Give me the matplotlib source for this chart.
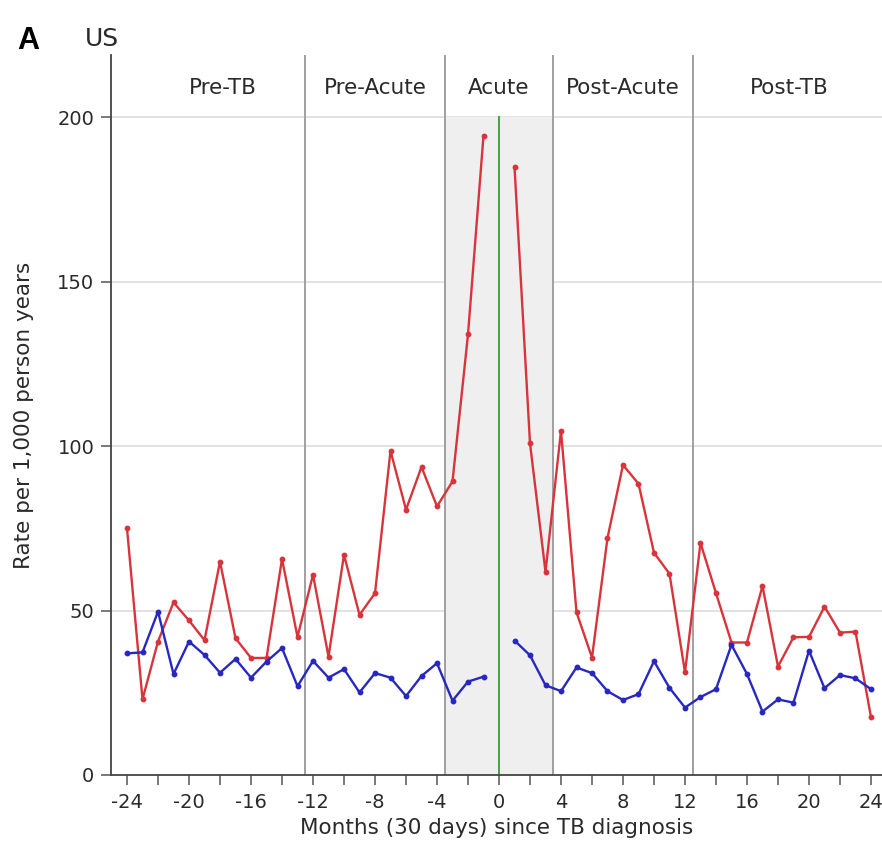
import matplotlib
matplotlib.use("Agg")
import matplotlib.pyplot as plt
import numpy as np

plt.rcParams['font.family'] = ['DejaVu Sans']
plt.rcParams['axes.unicode_minus'] = False

months_pre = list(range(-24, 0))
months_post = list(range(1, 25))

tb_pre = [75, 23, 40.6, 52.5, 47, 41, 64.9, 41.6, 35.6, 35.6, 65.7, 42,
          60.9, 36, 67, 48.7, 55.3, 98.6, 80.7, 93.7, 81.7, 89.3, 134, 194.5]
tb_post = [185, 100.9, 61.8, 104.7, 49.5, 35.7, 72.1, 94.3, 88.6, 67.6, 61.2, 31.2,
           70.6, 55.3, 40.3, 40.3, 57.5, 33, 41.9, 42, 51.2, 43.3, 43.6, 17.6]
ctrl_pre = [37, 37.3, 49.7, 30.7, 40.6, 36.5, 31.1, 35.3, 29.6, 34.5, 38.6, 27,
            34.7, 29.6, 32.2, 25.1, 31, 29.6, 24, 30.1, 34, 22.6, 28.4, 29.9]
ctrl_post = [40.9, 36.4, 27.3, 25.5, 32.7, 31, 25.5, 22.8, 24.6, 34.6, 26.5, 20.5,
             23.7, 26.1, 39.6, 30.7, 19.3, 23, 22, 37.8, 26.4, 30.4, 29.4, 26.1]

period_labels = ["Pre-TB", "Pre-Acute", "Acute", "Post-Acute", "Post-TB"]
period_bounds = [-25, -12.5, -3.5, 3.5, 12.5, 25]

fig = plt.figure(figsize=(8.82, 8.48), dpi=100)
ax = fig.add_axes([0.1259, 0.0861, 0.8741, 0.849])

red = '#d8343c'
blue = '#2828c0'
txt = '#2a2a2a'

ax.set_xlim(-25.03, 24.71)
ax.set_ylim(0, 219)

# grid
for y in [50, 100, 150, 200]:
    ax.axhline(y, color='#dddddd', lw=1.2, zorder=0)

# shaded acute region
ax.fill_between([-3.5, 3.5], 0, 200, color='#efefef', zorder=0.5, lw=0)
# period boundaries
for b in period_bounds[1:-1]:
    ax.axvline(b, color='#999999', lw=1.3, zorder=1)
ax.plot([0, 0], [0, 200], color='#3a9a3a', lw=1.3, zorder=1)

for i, lab in enumerate(period_labels):
    xc = (period_bounds[i] + period_bounds[i + 1]) / 2
    if i == 0:
        xc = (-24 - 12.5) / 2 + 0.4
    ax.text(xc, 209, lab, ha='center', va='center', fontsize=15.5, color=txt)

for xs, ys, c in [(months_pre, tb_pre, red), (months_post, tb_post, red),
                  (months_pre, ctrl_pre, blue), (months_post, ctrl_post, blue)]:
    ax.plot(xs, ys, color=c, lw=1.7, marker='o', ms=3.2, zorder=3)

ax.spines['top'].set_visible(False)
ax.spines['right'].set_visible(False)
for s in ['left', 'bottom']:
    ax.spines[s].set_color('#444444')
    ax.spines[s].set_linewidth(1.3)

ax.set_xticks(np.arange(-24, 25, 4))
ax.set_xticks(np.arange(-24, 25, 2), minor=True)
ax.set_yticks([0, 50, 100, 150, 200])
ax.tick_params(axis='both', which='both', colors='#555555', labelcolor=txt,
               labelsize=14, length=7, width=1.1)
ax.tick_params(axis='x', which='both', pad=6)
ax.tick_params(axis='y', pad=5)

ax.set_xlabel("Months (30 days) since TB diagnosis", fontsize=15.5, color=txt, labelpad=4)
ax.set_ylabel("Rate per 1,000 person years", fontsize=15.5, color=txt, labelpad=14)
ax.yaxis.set_label_coords(-0.10, 0.5)

fig.text(0.02, 0.952, "A", fontsize=22, fontweight='bold', va='center', ha='left',
         family=['Liberation Sans Narrow', 'Liberation Sans', 'DejaVu Sans'])
fig.text(0.096, 0.954, "US", fontsize=18, va='center', ha='left', color=txt)

fig.savefig("out.png", dpi=100)
